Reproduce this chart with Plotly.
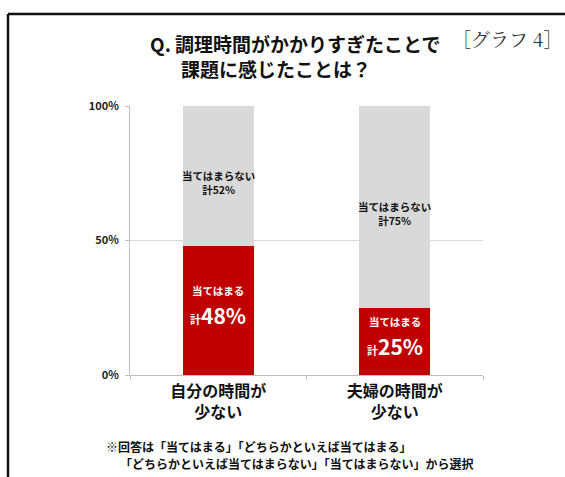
import plotly.graph_objects as go

# Survey result: share of respondents for each issue
categories = ["自分の時間が<br>少ない", "夫婦の時間が<br>少ない"]
applies = [48, 25]          # 当てはまる 計
not_applies = [52, 75]      # 当てはまらない 計
y_ticks = [0, 50, 100]
y_tick_labels = ["0%", "50%", "100%"]

title_line1 = "Q. 調理時間がかかりすぎたことで"
title_line2 = "課題に感じたことは？"
graph_tag = "［グラフ 4］"
note_line1 = "※回答は「当てはまる」「どちらかといえば当てはまる」"
note_line2 = "「どちらかといえば当てはまらない」「当てはまらない」から選択"

W, H = 565, 477
L, R, T, B = 130, 82, 106, 102
PW, PH = W - L - R, H - T - B

FONT = "Noto Sans CJK JP, Noto Sans, sans-serif"
RED = "#c00000"
GREY = "#d9d9d9"


def px(x, y):
    """Pixel position on the page -> paper coordinates."""
    return (x - L) / PW, (H - B - y) / PH


fig = go.Figure()
fig.add_bar(x=categories, y=applies, marker_color=RED, marker_line_width=0,
            name="当てはまる", hoverinfo="skip")
fig.add_bar(x=categories, y=not_applies, marker_color=GREY, marker_line_width=0,
            name="当てはまらない", hoverinfo="skip")

annotations = []
for cat, a, n in zip(categories, applies, not_applies):
    # grey segment label
    annotations.append(dict(
        x=cat, y=a + n / 2, xref="x", yref="y", yshift=-7,
        text=f"<b>当てはまらない<br>計{n}%</b>", showarrow=False,
        font=dict(family=FONT, size=10.5, color="#111111"), align="center"))
    # red segment labels
    annotations.append(dict(
        x=cat, y=a / 2, xref="x", yref="y", yshift=20,
        text="<b>当てはまる</b>", showarrow=False,
        font=dict(family=FONT, size=10.5, color="white")))
    annotations.append(dict(
        x=cat, y=a / 2, xref="x", yref="y", yshift=-5,
        text=f"<b>計<span style='font-size:21px'>{a}%</span></b>", showarrow=False,
        font=dict(family=FONT, size=11, color="white")))

x1, y1 = px(148, 44)
annotations.append(dict(x=x1, y=y1, xref="paper", yref="paper", xanchor="left", yanchor="middle",
                        text=f"<b>{title_line1}</b>", showarrow=False,
                        font=dict(family=FONT, size=19, color="#111111")))
x2, y2 = px(179, 68)
annotations.append(dict(x=x2, y=y2, xref="paper", yref="paper", xanchor="left", yanchor="middle",
                        text=f"<b>{title_line2}</b>", showarrow=False,
                        font=dict(family=FONT, size=19, color="#111111")))
x3, y3 = px(450, 38)
annotations.append(dict(x=x3, y=y3, xref="paper", yref="paper", xanchor="left", yanchor="middle",
                        text=graph_tag, showarrow=False,
                        font=dict(family="Noto Serif CJK JP, DejaVu Serif, serif", size=19,
                                  color="#333333")))
x4, y4 = px(104, 446)
annotations.append(dict(x=x4, y=y4, xref="paper", yref="paper", xanchor="left", yanchor="middle",
                        text=f"<b>{note_line1}</b>", showarrow=False,
                        font=dict(family=FONT, size=12, color="#111111")))
x5, y5 = px(118, 463)
annotations.append(dict(x=x5, y=y5, xref="paper", yref="paper", xanchor="left", yanchor="middle",
                        text=f"<b>{note_line2}</b>", showarrow=False,
                        font=dict(family=FONT, size=12, color="#111111")))

# frame lines (top and left edges)
fx0, fy0 = px(8, 14)
fx1, fy1 = px(W + 5, H + 5)
shapes = [
    dict(type="line", xref="paper", yref="paper", x0=fx0, x1=fx1, y0=fy0, y1=fy0,
         line=dict(color="#111111", width=2.5)),
    dict(type="line", xref="paper", yref="paper", x0=fx0, x1=fx0, y0=fy0, y1=fy1,
         line=dict(color="#111111", width=2.5)),
]

fig.update_layout(
    width=W, height=H,
    margin=dict(l=L, r=R, t=T, b=B, pad=0),
    paper_bgcolor="white", plot_bgcolor="white",
    barmode="stack", bargap=0.6,
    showlegend=False,
    annotations=annotations,
    shapes=shapes,
    font=dict(family=FONT),
)
fig.update_xaxes(
    type="category",
    tickvals=categories, ticktext=[f"<b>{c}</b>" for c in categories],
    showline=True, linecolor="#bfbfbf", linewidth=1,
    ticks="outside", tickson="boundaries", ticklen=4, tickcolor="#bfbfbf",
    tickfont=dict(family=FONT, size=16, color="#111111"),
    ticklabelstandoff=2,
    showgrid=False,
)
fig.update_yaxes(
    range=[0, 100], tickvals=y_ticks, ticktext=[f"<b>{t}</b>" for t in y_tick_labels],
    showline=True, linecolor="#bfbfbf", linewidth=1,
    showgrid=True, gridcolor="#d9d9d9", gridwidth=1,
    ticks="outside", ticklen=4, tickcolor="#bfbfbf",
    tickfont=dict(family=FONT, size=11, color="#222222"),
    ticklabelstandoff=4,
    zeroline=False,
)

fig.write_html("out.html")
